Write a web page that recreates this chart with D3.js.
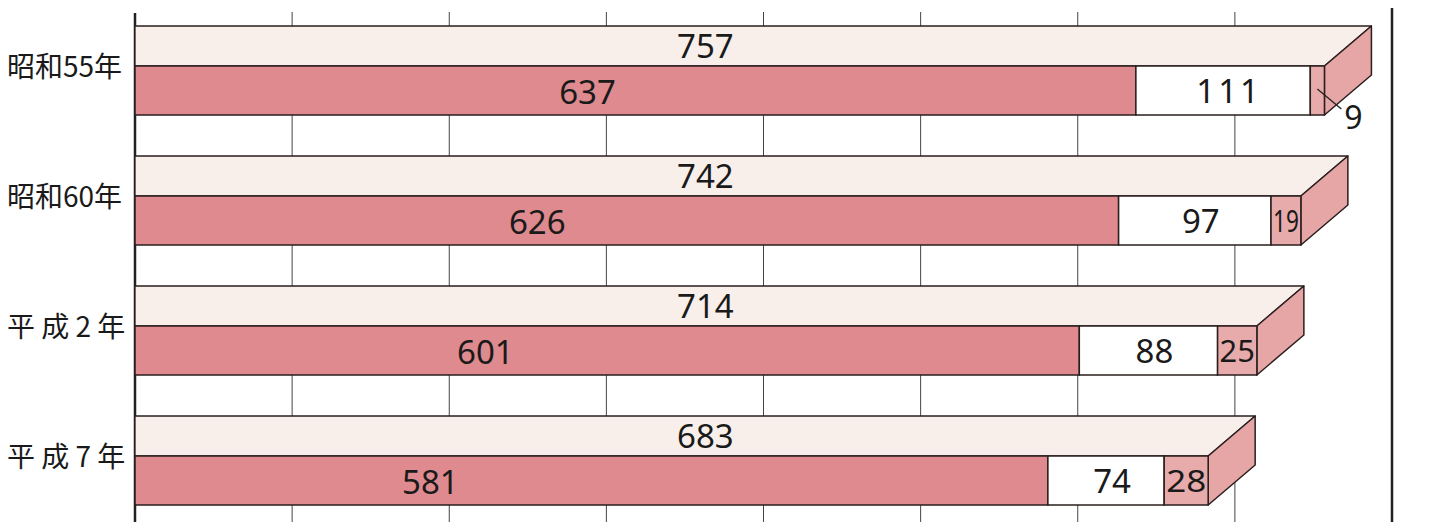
<!DOCTYPE html>
<html><head><meta charset="utf-8">
<script src="https://cdn.jsdelivr.net/npm/d3@7"></script>
<style>body{margin:0;background:#fff}svg{display:block}</style>
</head><body>
<svg id="c" width="1437" height="522"></svg>
<script>
const categories = ["昭和55年","昭和60年","平 成 2 年","平 成 7 年"];
const seriesMain = [637, 626, 601, 581];
const seriesMid = [111, 97, 88, 74];
const seriesSmall = [9, 19, 25, 28];
const totals = [757, 742, 714, 683];
const ticks = [0,100,200,300,400,500,600,700,800];

// layout (not data)
const mainLabelAt = [288, 256, 223, 188];
const totalLabelAt = 363;
const colMain = "#de8a8f", colTop = "#f8efeb", colSmall = "#e8abab", colSide = "#e6a6a6", stroke = "#2a1e1e";
const depthX = 47, depthY = 40, frontH = 49;
const numFont = "'Noto Sans', sans-serif";

const svg = d3.select("#c");
const x = d3.scaleLinear().domain([0, 800]).range([135, 1392]);
const y = d3.scalePoint().domain(categories).range([66, 456]);

svg.append("g").selectAll("line").data(ticks.slice(1, -1)).join("line")
  .attr("x1", d => x(d)).attr("x2", d => x(d)).attr("y1", 12).attr("y2", 522)
  .attr("stroke", "#444").attr("stroke-width", 1);
svg.append("line").attr("x1", x(0)).attr("x2", x(0)).attr("y1", 13).attr("y2", 522)
  .attr("stroke", "#222").attr("stroke-width", 2.5);
svg.append("line").attr("x1", x(800)).attr("x2", x(800)).attr("y1", 8).attr("y2", 522)
  .attr("stroke", "#222").attr("stroke-width", 2.5);

const g = svg.append("g");
categories.forEach((c, i) => {
  const yt = y(c);
  const xt = x(totals[i]);
  g.append("polygon")
    .attr("points", [[x(0), yt], [xt, yt], [xt + depthX, yt - depthY], [x(0), yt - depthY]].map(p => p.join(",")).join(" "))
    .attr("fill", colTop).attr("stroke", stroke).attr("stroke-width", 1.3).attr("stroke-linejoin", "round");
  g.append("polygon")
    .attr("points", [[xt, yt], [xt + depthX, yt - depthY], [xt + depthX, yt - depthY + frontH], [xt, yt + frontH]].map(p => p.join(",")).join(" "))
    .attr("fill", colSide).attr("stroke", stroke).attr("stroke-width", 1.5).attr("stroke-linejoin", "round");
  const segs = [
    [0, seriesMain[i], colMain],
    [seriesMain[i], seriesMain[i] + seriesMid[i], "#ffffff"],
    [seriesMain[i] + seriesMid[i], totals[i], colSmall]
  ];
  segs.forEach(s => {
    g.append("rect").attr("x", x(s[0])).attr("y", yt).attr("width", x(s[1]) - x(s[0])).attr("height", frontH)
      .attr("fill", s[2]).attr("stroke", stroke).attr("stroke-width", 1.5);
  });
  g.append("text").attr("x", x(totalLabelAt)).attr("y", yt - depthY / 2 + 12)
    .attr("text-anchor", "middle").attr("font-family", numFont).attr("font-size", 33)
    .attr("fill", "#1a1a1a").text(totals[i]);
  g.append("text").attr("x", x(mainLabelAt[i])).attr("y", yt + frontH / 2 + 13)
    .attr("text-anchor", "middle").attr("font-family", numFont).attr("font-size", 33)
    .attr("fill", "#1a1a1a").text(seriesMain[i]);
  g.append("text").attr("x", (x(seriesMain[i]) + x(seriesMain[i] + seriesMid[i])) / 2 + 6).attr("y", yt + frontH / 2 + 12)
    .attr("text-anchor", "middle").attr("font-family", numFont).attr("font-size", 33)
    .attr("fill", "#1a1a1a").attr("letter-spacing", seriesMid[i] > 99 ? 3 : 0).text(seriesMid[i]);
  const xs0 = x(seriesMain[i] + seriesMid[i]), xs1 = x(totals[i]);
  if (xs1 - xs0 > 20) {
    g.append("text").attr("x", xs0 + 2).attr("y", yt + frontH / 2 + 11)
      .attr("font-family", numFont).attr("font-size", 31)
      .attr("textLength", xs1 - xs0 - 4).attr("lengthAdjust", "spacingAndGlyphs")
      .attr("fill", "#1a1a1a").text(seriesSmall[i]);
  } else {
    const cx = (xs0 + xs1) / 2;
    g.append("line").attr("x1", cx).attr("y1", yt + 23).attr("x2", cx + 24).attr("y2", yt + 43)
      .attr("stroke", "#222").attr("stroke-width", 1.3);
    g.append("text").attr("x", cx + 36).attr("y", yt + 63)
      .attr("text-anchor", "middle").attr("font-family", numFont).attr("font-size", 32)
      .attr("fill", "#1a1a1a").text(seriesSmall[i]);
  }
  g.append("text").attr("x", 7).attr("y", yt + 11)
    .attr("font-family", "'Noto Sans CJK JP', sans-serif").attr("font-size", 28)
    .attr("fill", "#1a1a1a").text(c);
});
</script>
</body></html>
